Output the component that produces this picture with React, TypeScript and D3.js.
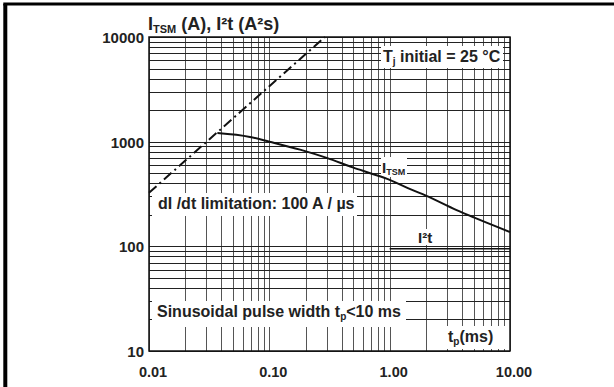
import React from 'react';
import * as d3 from 'd3';

// pulse width tp (ms) and surge current ITSM (A)
const itsmTp = [0.037, 0.069, 0.1, 0.18, 0.3, 0.5, 0.7, 1, 1.5, 2, 3.6, 5, 10];
const itsmA = [1210, 1110, 1000, 840, 700, 565, 497, 432, 350, 305, 222, 189, 137];

// I2t (A2s)
const i2tTp = [1, 10];
const i2tVal = [95, 95];

// dI/dt limitation line
const didtTp = [0.01, 0.29];
const didtA = [325, 10000];

const xTickValues = [0.01, 0.1, 1, 10];
const xTickLabels = ['0.01', '0.10', '1.00', '10.00'];
const yTickValues = [10, 100, 1000, 10000];
const yTickLabels = ['10', '100', '1000', '10000'];

const FONT = '"Liberation Sans", Arial, Helvetica, sans-serif';
const INK = '#222';

export default function App() {
  const width = 614;
  const height = 387;
  const left = 149;
  const right = 510;
  const top = 37;
  const bottom = 351;

  const x = d3.scaleLog().domain([0.01, 10]).range([left, right]);
  const y = d3.scaleLog().domain([10, 10000]).range([bottom, top]);

  const line = d3
    .line<[number, number]>()
    .x((d) => x(d[0]))
    .y((d) => y(d[1]))
    .curve(d3.curveMonotoneX);

  const itsm = itsmTp.map((t, i) => [t, itsmA[i]] as [number, number]);
  const i2t = i2tTp.map((t, i) => [t, i2tVal[i]] as [number, number]);
  const didt = didtTp.map((t, i) => [t, didtA[i]] as [number, number]);

  // white label boxes that hide the grid
  const boxes = [
    [381, 46, 503, 68],
    [381, 157, 407, 177],
    [152, 193, 357, 216],
    [414, 229, 438, 245],
    [152, 301, 406, 327],
    [444, 326, 505, 349],
  ];

  return (
    <svg
      width={width}
      height={height}
      style={{ position: 'absolute', left: 0, top: 0, background: '#fff' }}
      fontFamily={FONT}
      fontWeight="bold"
      fill={INK}
    >
      {/* outer frame */}
      <line x1={5.3} y1={4} x2={5.3} y2={height} stroke="#000" strokeWidth={4} />
      <line x1={3.3} y1={4} x2={width} y2={4} stroke="#000" strokeWidth={3} />

      {/* grid */}
      <g shapeRendering="crispEdges">
        {x.ticks().map((v, i) => (
          <line key={'gx' + i} x1={Math.round(x(v)) + 0.5} x2={Math.round(x(v)) + 0.5} y1={top} y2={bottom} stroke="#555" strokeWidth={1} />
        ))}
        {y.ticks().map((v, i) => (
          <line key={'gy' + i} x1={left} x2={right} y1={Math.round(y(v)) + 0.5} y2={Math.round(y(v)) + 0.5} stroke="#222" strokeWidth={1} />
        ))}
      </g>

      {boxes.map((b, i) => (
        <rect key={'b' + i} x={b[0]} y={b[1]} width={b[2] - b[0]} height={b[3] - b[1]} fill="#fff" />
      ))}

      {/* curves */}
      <path d={line(didt) || ''} fill="none" stroke="#111" strokeWidth={2} strokeDasharray="10,4,2,4" />
      <path d={line(itsm) || ''} fill="none" stroke="#111" strokeWidth={2} />
      <path d={line(i2t) || ''} fill="none" stroke="#111" strokeWidth={1.5} />

      {/* plot frame */}
      <rect x={left} y={top} width={right - left} height={bottom - top} fill="none" stroke="#111" strokeWidth={1.5} />

      {/* tick labels */}
      {yTickValues.map((v, i) => (
        <text key={'yl' + i} x={144} y={y(v) + 6} textAnchor="end" fontSize={15}>
          {yTickLabels[i]}
        </text>
      ))}
      {xTickValues.map((v, i) => (
        <text key={'xl' + i} x={x(v) + 4} y={377} textAnchor="middle" fontSize={14.5}>
          {xTickLabels[i]}
        </text>
      ))}

      {/* titles and annotations */}
      <text x={148} y={30} fontSize={18}>
        I<tspan fontSize={11} dy={3}>TSM</tspan>
        <tspan dy={-3}> (A), I²t (A²s)</tspan>
      </text>
      <text x={383} y={62} fontSize={16}>
        T<tspan fontSize={10} dy={3}>j</tspan>
        <tspan dy={-3}> initial = 25 °C</tspan>
      </text>
      <text x={382} y={173} fontSize={15}>
        I<tspan fontSize={9} dy={2}>TSM</tspan>
      </text>
      <text x={158} y={209} fontSize={16}>
        dI /dt limitation: 100 A / µs
      </text>
      <text x={418} y={243} fontSize={15}>
        I²t
      </text>
      <text x={157} y={317} fontSize={16}>
        Sinusoidal pulse width t<tspan fontSize={10} dy={3}>p</tspan>
        <tspan dy={-3}>&lt;10 ms</tspan>
      </text>
      <text x={448} y={342} fontSize={16}>
        t<tspan fontSize={10} dy={3}>p</tspan>
        <tspan dy={-3}>(ms)</tspan>
      </text>
    </svg>
  );
}
